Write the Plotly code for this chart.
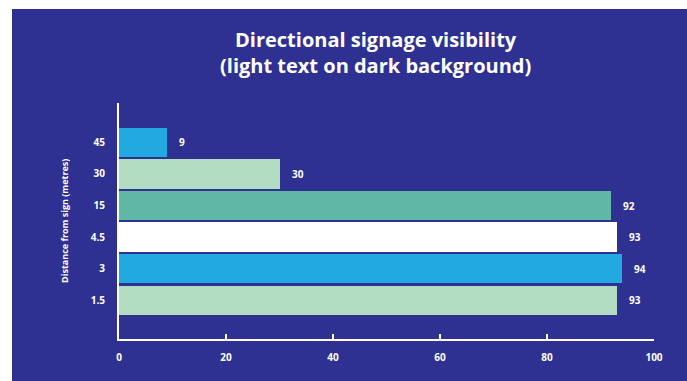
import plotly.graph_objects as go

# Viewing distance from the sign (metres), bottom to top
distances = ["1.5", "3", "4.5", "15", "30", "45"]
# Share of respondents who could read the sign (%)
visibility = [93, 94, 93, 92, 30, 9]
bar_colors = ["#b1dcc1", "#23a9e1", "#ffffff", "#5fb8a5", "#b1dcc1", "#23a9e1"]
x_ticks = [0, 20, 40, 60, 80, 100]

NAVY = "#2e3192"
FONT = "Open Sans"
W, H = 687, 381

fig = go.Figure()
fig.add_trace(go.Bar(
    y=distances,
    x=visibility,
    orientation="h",
    marker=dict(color=bar_colors, line=dict(width=0)),
    width=0.93,
    hoverinfo="skip",
))

# value labels to the right of each bar (category axis positions are indices)
for i, v in enumerate(visibility):
    fig.add_annotation(
        x=v, y=i, xref="x", yref="y", text=f"<b>{v}</b>",
        showarrow=False, xanchor="left", xshift=10,
        font=dict(family=FONT, size=10, color="white"),
    )

# vertical axis title
fig.add_annotation(
    x=-55 / 535, y=0.5, xref="paper", yref="paper",
    text="<b>Distance from sign (metres)</b>", textangle=-90,
    showarrow=False, xanchor="center", yanchor="middle",
    font=dict(family=FONT, size=9, color="white"),
)

# two-line chart title
fig.add_annotation(
    x=(375 - 119) / 535, y=1 + (103 - 24) / 236, xref="paper", yref="paper",
    text="<b>Directional signage visibility<br>(light text on dark background)</b>",
    showarrow=False, xanchor="center", yanchor="top",
    font=dict(family=FONT, size=20, color="white"),
)

# navy panel with a thin white strip along the top and left edges
fig.add_shape(
    type="rect", xref="paper", yref="paper", layer="below",
    x0=(12 - 119) / 535, x1=(W - 119) / 535 + 0.01,
    y0=-42 / 236 - 0.01, y1=1 + (103 - 9) / 236,
    fillcolor=NAVY, line=dict(width=0),
)

fig.update_layout(
    width=W, height=H,
    margin=dict(l=119, r=33, t=103, b=42),
    paper_bgcolor="white",
    plot_bgcolor="rgba(0,0,0,0)",
    showlegend=False,
    bargap=0,
    xaxis=dict(
        range=[0, 100], tickvals=x_ticks, ticktext=[str(t) for t in x_ticks],
        showgrid=False, zeroline=False,
        showline=True, linecolor="white", linewidth=2,
        ticks="inside", ticklen=5, tickwidth=2, tickcolor="white",
        ticklabelstandoff=8,
        tickfont=dict(family=FONT, size=10, color="white", weight="bold"),
        fixedrange=True,
    ),
    yaxis=dict(
        type="category", categoryorder="array", categoryarray=distances,
        range=[-1.23, 6.25],
        showgrid=False, zeroline=False,
        showline=True, linecolor="white", linewidth=2,
        ticks="", ticklabelstandoff=10,
        tickfont=dict(family=FONT, size=10, color="white", weight="bold"),
        fixedrange=True,
    ),
)

fig.write_html("out.html")
